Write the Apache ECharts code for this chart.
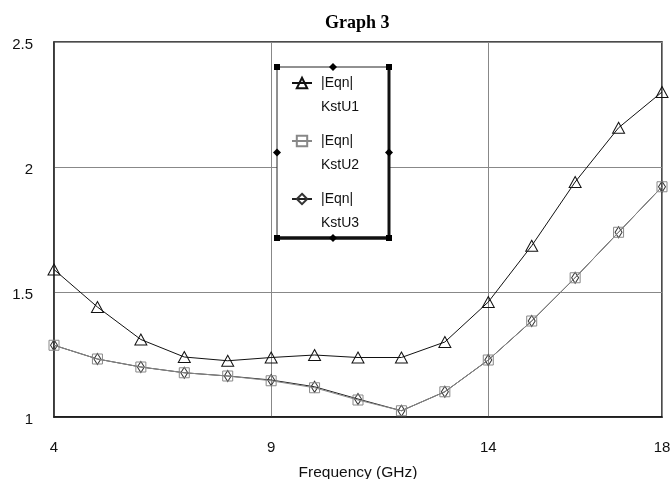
<!DOCTYPE html>
<html>
<head>
<meta charset="utf-8">
<script src="https://cdn.jsdelivr.net/npm/echarts@6/dist/echarts.min.js"></script>
<style>html,body{margin:0;padding:0;background:#fff}#c{width:672px;height:479px}</style>
</head>
<body>
<div id="c"></div>
<script>
const freq = [4, 5, 6, 7, 8, 9, 10, 11, 12, 13, 14, 15, 16, 17, 18];
const kstU1 = [1.59, 1.44, 1.31, 1.24, 1.225, 1.238, 1.248, 1.238, 1.238, 1.30, 1.46, 1.685, 1.94, 2.157, 2.30];
const kstU2 = [1.287, 1.232, 1.20, 1.177, 1.164, 1.145, 1.117, 1.068, 1.025, 1.101, 1.228, 1.384, 1.557, 1.739, 1.921];
const kstU3 = [1.287, 1.232, 1.20, 1.177, 1.164, 1.148, 1.121, 1.072, 1.025, 1.101, 1.228, 1.384, 1.557, 1.739, 1.921];
const seriesNames = ['KstU1', 'KstU2', 'KstU3'];
const yTicks = [1, 1.5, 2, 2.5];
const xTicks = [4, 9, 14, 18];

const pairs = arr => freq.map((f, i) => [f, arr[i]]);
const font = 'Liberation Sans, Arial, sans-serif';

const chart = echarts.init(document.getElementById('c'), null, {renderer: 'canvas'});
const handles = [];
const bx0 = 277, by0 = 67, bx1 = 389, by1 = 238;
[[bx0, by0], [bx1, by0], [bx0, by1], [bx1, by1]].forEach(p => handles.push({
  type: 'rect', shape: {x: p[0] - 3, y: p[1] - 3, width: 6, height: 6}, style: {fill: '#000'}, z: 100
}));
[[(bx0 + bx1) / 2, by0], [(bx0 + bx1) / 2, by1], [bx0, (by0 + by1) / 2], [bx1, (by0 + by1) / 2]].forEach(p => handles.push({
  type: 'polygon', shape: {points: [[p[0], p[1] - 4], [p[0] + 4, p[1]], [p[0], p[1] + 4], [p[0] - 4, p[1]]]}, style: {fill: '#000'}, z: 100
}));

chart.setOption({
  animation: false,
  backgroundColor: '#fff',
  title: {
    text: 'Graph 3', left: 325, top: 14, padding: 0,
    textStyle: {fontFamily: 'Liberation Serif, Times New Roman, serif', fontWeight: 'bold', fontSize: 18, color: '#000'}
  },
  grid: {left: 54, right: 10, top: 42, bottom: 62, outerBoundsMode: 'none', containLabel: false,
    show: true, borderColor: '#111', borderWidth: 1.5, backgroundColor: '#fff'},
  xAxis: {
    type: 'value', min: xTicks[0], max: xTicks[xTicks.length - 1], interval: 5,
    name: 'Frequency (GHz)', nameLocation: 'middle', nameGap: 48,
    nameTextStyle: {fontFamily: font, fontSize: 15.5, color: '#111'},
    axisLine: {lineStyle: {color: '#111', width: 1.5}},
    axisTick: {show: false},
    axisLabel: {fontFamily: font, fontSize: 15, color: '#111', margin: 23},
    splitLine: {show: true, lineStyle: {color: '#888', width: 1}}
  },
  yAxis: {
    type: 'value', min: yTicks[0], max: yTicks[yTicks.length - 1], interval: 0.5,
    axisLine: {show: true, lineStyle: {color: '#333', width: 1.5}},
    axisTick: {show: false},
    axisLabel: {fontFamily: font, fontSize: 15, color: '#111', margin: 21, verticalAlign: 'top', lineHeight: 5},
    splitLine: {show: true, lineStyle: {color: '#888', width: 1}}
  },
  legend: {
    orient: 'vertical', left: 291, top: 47, padding: 0, itemGap: -14,
    itemWidth: 20, itemHeight: 13,
    formatter: '\n|Eqn|\n{name}',
    textStyle: {fontFamily: font, fontSize: 14, color: '#111', lineHeight: 24, padding: [0, 0, 0, 4]},
    data: seriesNames
  },
  graphic: [
    {type: 'rect', shape: {x: bx0, y: by0, width: bx1 - bx0, height: by1 - by0}, style: {fill: '#fff', stroke: '#222', lineWidth: 1}, z: 1},
    {type: 'line', shape: {x1: bx0, y1: by1, x2: bx1, y2: by1}, style: {stroke: '#111', lineWidth: 3.5}, z: 99},
    {type: 'line', shape: {x1: bx1, y1: by0, x2: bx1, y2: by1}, style: {stroke: '#111', lineWidth: 3}, z: 99}
  ].concat(handles),
  series: [
    {
      name: seriesNames[0], type: 'line', data: pairs(kstU1), z: 3,
      symbol: 'triangle', symbolSize: [12, 11],
      lineStyle: {color: '#111', width: 1},
      itemStyle: {color: 'rgba(255,255,255,0)', borderColor: '#111', borderWidth: 1}
    },
    {
      name: seriesNames[1], type: 'line', data: pairs(kstU2), z: 3,
      symbol: 'rect', symbolSize: 10,
      lineStyle: {color: '#888', width: 1},
      itemStyle: {color: 'rgba(255,255,255,0)', borderColor: '#888', borderWidth: 1}
    },
    {
      name: seriesNames[2], type: 'line', data: pairs(kstU3), z: 2,
      symbol: 'diamond', symbolSize: [7, 11],
      lineStyle: {color: '#222', width: 1},
      itemStyle: {color: 'rgba(255,255,255,0)', borderColor: '#333', borderWidth: 1}
    }
  ]
});
</script>
</body>
</html>
